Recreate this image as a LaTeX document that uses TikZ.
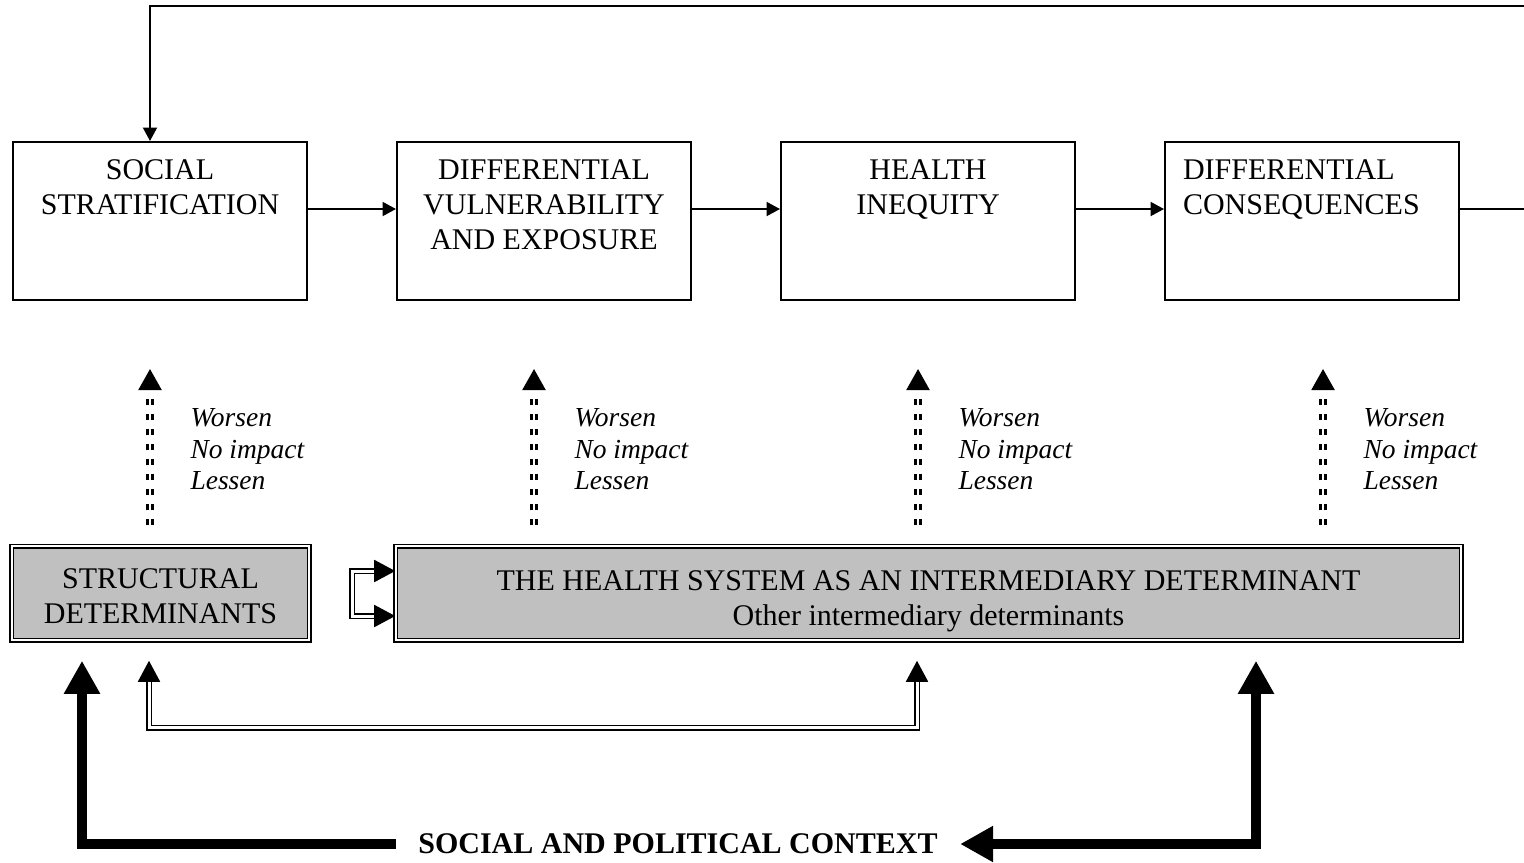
\documentclass[tikz,border=0pt]{standalone}
\usepackage{fontspec}
\setmainfont{Liberation Serif}
\usetikzlibrary{calc,chains,positioning,arrows.meta}
\definecolor{detgray}{RGB}{192,192,192}
\tikzset{
  flowtip/.tip={Triangle[length=5.4pt,width=5.6pt]},
  efftip/.tip={Triangle[length=8.4pt,width=9.2pt]},
  feedtip/.tip={Triangle[length=8.4pt,width=8.8pt]},
  ctxtip/.tip={Triangle[length=13.2pt,width=13.6pt]},
  stage/.style={ % box of the upper chain
    draw, rectangle, line width=0.8pt,
    minimum width=117.6pt, minimum height=63.2pt, inner sep=0pt
  },
  stagetext/.style={ % text at the top of a stage box
    anchor=north, align=center, inner sep=0pt, yshift=-7.2pt,
    font=\fontsize{12}{14}\selectfont
  },
  determinant/.style={ % shaded box with a double border
    draw, rectangle, fill=detgray, double, double distance=0.8pt,
    line width=0.6pt, minimum height=37.6pt, align=center, inner sep=0pt,
    font=\fontsize{12}{14}\selectfont
  },
  effecttext/.style={
    anchor=north west, align=left, inner sep=0pt,
    font=\fontsize{11}{12.6}\selectfont\itshape
  },
  flow/.style={line width=0.8pt, -flowtip},
  effect/.style={
    double, line width=0.9pt, double distance=1.1pt,
    dash pattern=on 2.4pt off 3.6pt, -efftip
  },
  feed/.style={double, line width=0.7pt, double distance=1.2pt, feedtip-feedtip},
  context/.style={line width=4pt}
}
\begin{document}
\begin{tikzpicture}[
    x=0.4pt, y=-0.4pt, start chain, node distance=35.2pt
  ]
  \useasboundingbox (0,0) rectangle (1524,862);

  \node[stage, on chain, label={[stagetext]north:SOCIAL\\STRATIFICATION}] (strat) at (160,221) {};
  \node[stage, on chain, label={[stagetext]north:DIFFERENTIAL\\VULNERABILITY\\AND EXPOSURE}] (vuln) {};
  \node[stage, on chain, label={[stagetext]north:HEALTH\\INEQUITY}] (ineq) {};
  \node[stage, on chain, label={[stagetext, anchor=north west, align=left, xshift=7.4pt]north west:DIFFERENTIAL\\CONSEQUENCES}] (cons) {};

  \node[determinant, minimum width=118.8pt, text height=24.3pt] (struct) at (160.5,593) {STRUCTURAL\\DETERMINANTS};
  \node[determinant, minimum width=426pt, text height=28.3pt] (health) at (928.5,593)
    {THE HEALTH SYSTEM AS AN INTERMEDIARY DETERMINANT\\Other intermediary determinants};
  \node[font=\fontsize{12}{14}\selectfont\bfseries, inner xsep=8.8pt, inner ysep=0pt] (ctx) at (678,844) {SOCIAL AND POLITICAL CONTEXT};
  \coordinate (loop) at (1530,6);

  \foreach \a/\b in {strat/vuln, vuln/ineq, ineq/cons}
    \draw[flow] ([yshift=4.8pt]\a.east) -- ([yshift=4.8pt]\b.west);
  \draw[flow] ([yshift=4.8pt]cons.east) -| (loop) -| ([xshift=-4pt]strat.north);

  \foreach \top/\bot/\dx in {strat/struct/-10, vuln/health/-10, ineq/health/-10, cons/health/11}{
    \draw[effect] ($(\bot.north -| \top.south)+(\dx,-20)$) -- ($(\top.south)+(\dx,68)$);
    \node[effecttext] (lbl-\top) at ($(\top.south)+(\dx+40,107)$) {Worsen\\No impact\\Lessen};
  }

  \draw[feed] ($(health.west)+(0,-22)$) -- ++(-43,0) -- ++(0,45) -- ($(health.west)+(0,23)$);
  \draw[feed] ($(struct.south)+(-11.5,20)$) |- ($(health.south)+(-11.5,87)$) -- ($(health.south)+(-11.5,20)$);

  \draw[context, -ctxtip] (ctx.west) -| ($(struct.south)+(-78.5,20)$);
  \draw[context, ctxtip-ctxtip] (ctx.east) -| ($(health.south)+(327.5,20)$);
\end{tikzpicture}
\end{document}
